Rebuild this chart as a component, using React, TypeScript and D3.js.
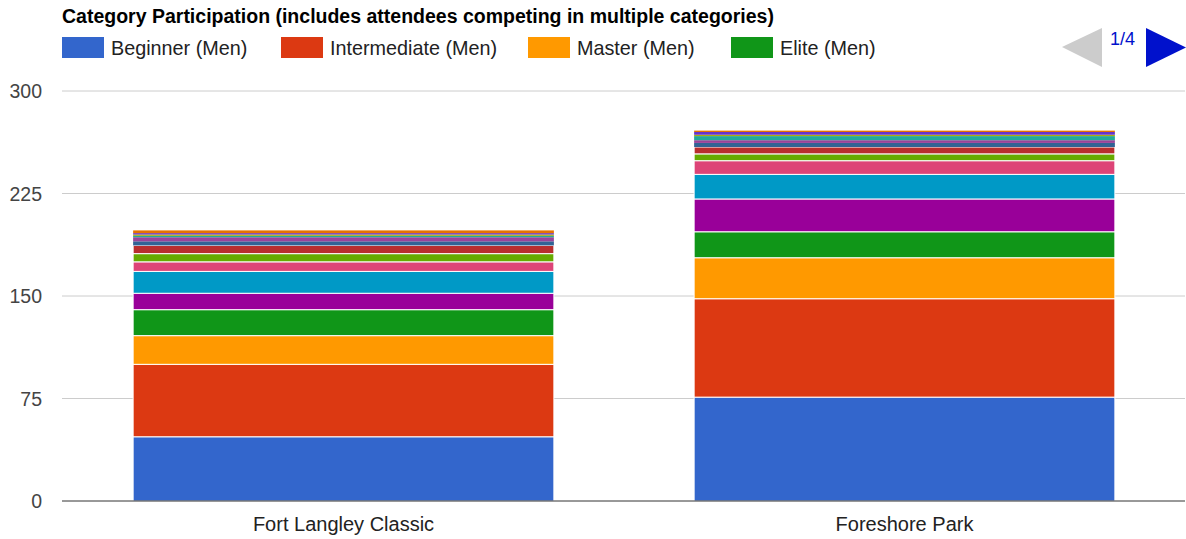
import React from "react";
import * as d3 from "d3";

const categories = ["Fort Langley Classic", "Foreshore Park"];
const seriesNames = [
  "Beginner (Men)", "Intermediate (Men)", "Master (Men)", "Elite (Men)",
  "Series 5", "Series 6", "Series 7", "Series 8", "Series 9", "Series 10",
  "Series 11", "Series 12", "Series 13", "Series 14", "Series 15",
];
const fortLangley = [47, 53, 21, 19, 12, 16, 7, 6, 6, 3, 3, 1, 1, 1, 2];
const foreshore = [76, 72, 30, 19, 24, 18, 10, 5, 5, 3, 2, 3, 1, 2, 1];
const colors = [
  "#3366cc", "#dc3912", "#ff9900", "#109618", "#990099", "#0099c6", "#dd4477",
  "#66aa00", "#b82e2e", "#316395", "#994499", "#22aa99", "#aaaa11", "#6633cc", "#e67300",
];
const yTicks = [0, 75, 150, 225, 300];
const legendShown = 4;

export default function App() {
  const W = 1186, H = 539;
  const left = 63, right = 1185, top = 91, bottom = 501;
  const x = d3.scaleBand().domain(categories).range([left, right]).paddingInner(0.25).paddingOuter(0.125);
  const y = d3.scaleLinear().domain([0, 300]).range([bottom, top]);
  const rows = categories.map((c, i) => {
    const vals = i === 0 ? fortLangley : foreshore;
    const o: any = { cat: c };
    seriesNames.forEach((s, j) => (o[s] = vals[j]));
    return o;
  });
  const stacked = d3.stack().keys(seriesNames)(rows as any);
  const font = "'Liberation Sans', Arial, sans-serif";
  const legendX = [62, 281, 528, 731];

  return (
    <svg width={W} height={H} style={{ position: "absolute", left: 0, top: 0, background: "#fff" }} fontFamily={font}>
      <text x={62} y={23} fontSize={19.5} fontWeight="bold" fill="#000">
        Category Participation (includes attendees competing in multiple categories)
      </text>
      {seriesNames.slice(0, legendShown).map((s, i) => (
        <g key={s}>
          <rect x={legendX[i]} y={37} width={42} height={21} fill={colors[i]} />
          <text x={legendX[i] + 49} y={55} fontSize={19.8} fill="#222">{s}</text>
        </g>
      ))}
      <polygon points="1062,47 1102,28 1102,67" fill="#cccccc" />
      <text x={1110} y={45} fontSize={18} fill="#0011cc">1/4</text>
      <polygon points="1146,28 1186,47.5 1146,67" fill="#0011cc" />
      {yTicks.map((t) => (
        <g key={t}>
          {t !== 0 && <line x1={left - 1} x2={right} y1={y(t)} y2={y(t)} stroke="#cccccc" strokeWidth={1} />}
          <text x={42} y={y(t) + 7} fontSize={19.5} textAnchor="end" fill="#444">{t}</text>
        </g>
      ))}
      {stacked.map((layer, j) => (
        <g key={j} fill={colors[j]}>
          {layer.map((d: any, i) => {
            const h = Math.max(0, y(d[0]) - y(d[1]));
            return (
              <rect key={i} x={x(categories[i])!} width={x.bandwidth()} y={y(d[1])} height={h}
                stroke={h >= 6 ? "#ffffff" : "none"} strokeWidth={1} />
            );
          })}
        </g>
      ))}
      <line x1={left - 1} x2={right} y1={bottom} y2={bottom} stroke="#333333" strokeWidth={1} />
      {categories.map((c) => (
        <text key={c} x={x(c)! + x.bandwidth() / 2} y={531} fontSize={20} textAnchor="middle" fill="#222">{c}</text>
      ))}
    </svg>
  );
}
